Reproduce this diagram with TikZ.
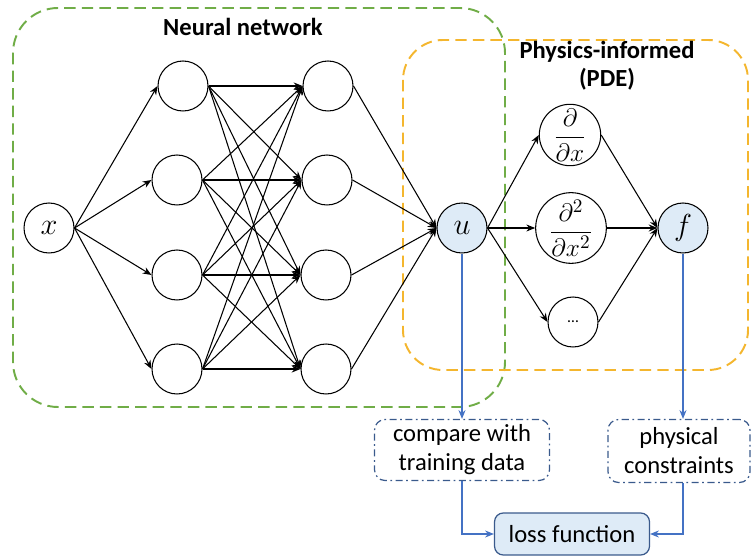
\documentclass[tikz,border=0pt]{standalone}
\usepackage{amsmath}
\usepackage{fontspec}
\setmainfont{Carlito}
\usetikzlibrary{positioning}
\usetikzlibrary{arrows.meta}

\definecolor{nngreen}{HTML}{70AD47}
\definecolor{pdeorange}{HTML}{F4B62E}
\definecolor{cellblue}{HTML}{DEEBF7}
\definecolor{flowblue}{HTML}{4472C4}
\definecolor{boxnavy}{HTML}{3A5A8C}

\begin{document}
\begin{tikzpicture}[x=0.02cm, y=-0.02cm,
            neuron/.style={draw=black, circle, line width=0.6pt, minimum size=1cm, inner sep=0pt,
            font=\fontsize{16}{18}\selectfont},
            outcell/.style={neuron, fill=cellblue},
            link/.style={line width=0.6pt, -{Stealth[length=5pt,width=4pt]}},
            flow/.style={draw=flowblue, line width=0.7pt, -{Stealth[length=5pt,width=4pt]}},
            title/.style={font=\fontsize{14}{16}\selectfont\bfseries, align=center},
            databox/.style={draw=boxnavy, line width=0.7pt, dash pattern=on 4pt off 2pt on 1pt off 2pt,
            rounded corners=6pt, align=center, font=\fontsize{14}{16.5}\selectfont, inner sep=0pt},
            lossbox/.style={draw=boxnavy, fill=cellblue, line width=0.7pt, rounded corners=5pt,
            font=\fontsize{14}{16}\selectfont, minimum width=3.1cm, minimum height=0.84cm}]
        \useasboundingbox (0,0) rectangle (751,557);

        % containers
        \draw[nngreen, line width=1.1pt, dash pattern=on 6.5pt off 3.5pt, rounded corners=0.9cm]
            (13,8) rectangle (505,407);
        \draw[pdeorange, line width=1.1pt, dash pattern=on 6.5pt off 3.5pt, rounded corners=0.8cm]
            (403,40) rectangle (748,370);
        \node[title] (nntitle) at (243,27) {Neural network};
        \node[title] (pdetitle) at (607,66) {Physics-informed\\(PDE)};

        % network
        \node[neuron] (x) at (49,228) {$x$};
        \node[neuron] (h11) at (183,86) {};
        \node[neuron] (h12) at (177,180) {};
        \node[neuron] (h13) at (177,275) {};
        \node[neuron] (h14) at (177,369) {};
        \node[neuron] (h21) at (328,86) {};
        \node[neuron] (h22) at (327,180) {};
        \node[neuron] (h23) at (326,275) {};
        \node[neuron] (h24) at (326,369) {};
        \node[outcell] (u) at (462,228) {$u$};

        % physics part
        \node[neuron, minimum size=1.08cm, font=\fontsize{15}{18}\selectfont] (dx) at (570,135)
            {$\dfrac{\partial}{\partial x}$};
        \node[neuron, minimum size=1.08cm, font=\fontsize{15}{18}\selectfont] (dxx) at (571,228)
            {$\dfrac{\partial^2}{\partial x^2}$};
        \node[neuron] (dots) at (573,322) {\small\ldots};
        \node[outcell] (f) at (683,228) {$f$};

        \foreach \i in {1,...,4} {
            \draw[link] (x.east) -- (h1\i.west);
            \draw[link] (h2\i.east) -- (u.west);
            \foreach \j in {1,...,4}
                \draw[link] (h1\i.east) -- (h2\j.west);
        }
        \foreach \d in {dx,dxx,dots} {
            \draw[link] (u.east) -- (\d.west);
            \draw[link] (\d.east) -- (f.west);
        }

        % loss
        \node[databox, minimum width=3.5cm, minimum height=1.22cm] (compare) at (462,450)
            {compare with\\training data};
        \node[databox, minimum width=2.84cm, minimum height=1.26cm] (phys) at (679,451)
            {physical\\constraints};
        \node[lossbox] (loss) at (572,534) {loss function};

        \draw[flow] (u) -- (u |- compare.north);
        \draw[flow] (f) -- (f |- phys.north);
        \draw[flow] (compare) |- (loss);
        \draw[flow] (f |- phys.south) |- (loss);
    \end{tikzpicture}
\end{document}
